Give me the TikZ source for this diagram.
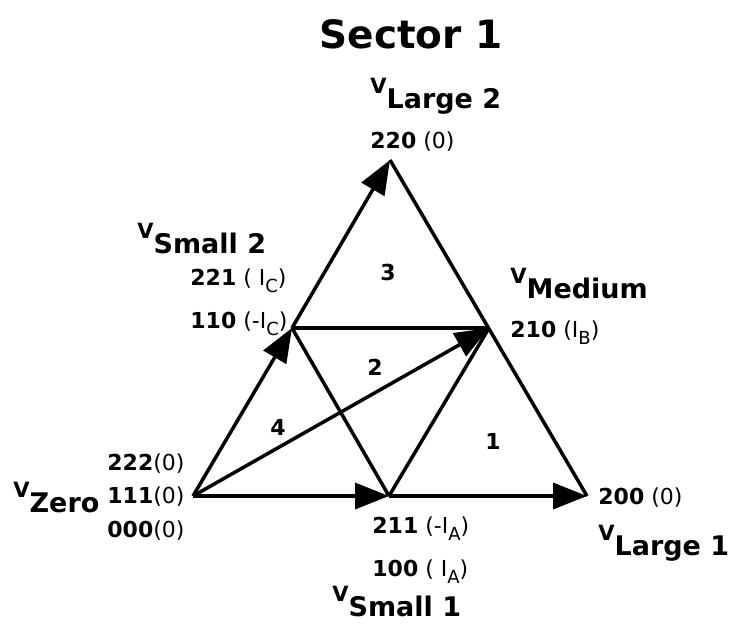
\documentclass[tikz,border=0pt]{standalone}
\usepackage{fontspec}
\setmainfont{DejaVu Sans}
\usetikzlibrary{arrows.meta}
\newcommand{\vlab}[1]{{\fontsize{10.5}{13}\selectfont\bfseries V}\raisebox{-7.5pt}{\fontsize{13.5}{15}\selectfont\bfseries #1}}
\newcommand{\cur}[1]{I\raisebox{-3.5pt}{\fontsize{9}{10}\selectfont #1}}

\begin{document}
\begin{tikzpicture}[x=0.5pt,y=-0.5pt,
  vec/.style={line width=1.75pt,-{Triangle[length=17pt,width=13pt]}},
  side/.style={line width=1.75pt},
  vname/.style={anchor=base west,inner sep=0pt},
  state/.style={anchor=base west,inner sep=0pt,font=\fontsize{11}{12}\selectfont},
  region/.style={font=\fontsize{11}{12}\selectfont\bfseries}]
\useasboundingbox (0,0) rectangle (731,623);
\node[font=\fontsize{19.5}{24}\selectfont\bfseries,anchor=base] (T) at (411,48) {Sector 1};
% vertices
\coordinate (Z) at (193,496);
\coordinate (S1) at (389,496);
\coordinate (L1) at (587,496);
\coordinate (L2) at (390,160);
\coordinate (S2) at (292,328);
\coordinate (M) at (489,328);
% sides
\draw[side] (L1) -- (L2);
\draw[side] (S2) -- (M);
\draw[side] (S2) -- (S1);
\draw[side] (S1) -- (M);
% vectors
\draw[vec] (Z) -- (S1);
\draw[vec] (S1) -- (L1);
\draw[vec] (Z) -- (S2);
\draw[vec] (S2) -- (L2);
\draw[vec] (Z) -- (M);
% regions
\node[region] (R1) at (493,441) {1};
\node[region] (R2) at (375,367) {2};
\node[region] (R3) at (388,272) {3};
\node[region] (R4) at (278,427) {4};
% vector names
\node[vname] (VL2) at (370,93) {\vlab{Large 2}};
\node[vname] (VM) at (510,283) {\vlab{Medium}};
\node[vname] (VS2) at (137,238) {\vlab{Small 2}};
\node[vname] (VZ) at (13,497) {\vlab{Zero}};
\node[vname] (VS1) at (332,601) {\vlab{Small 1}};
\node[vname] (VL1) at (598,540) {\vlab{Large 1}};
% switching states
\node[state] (s220) at (370,148) {\textbf{220} (0)};
\node[state] (s210) at (510,337) {\textbf{210} (\cur{B})};
\node[state] (s221) at (190,285) {\textbf{221} ( \cur{C})};
\node[state] (s110) at (190,328) {\textbf{110} (-\cur{C})};
\node[state] (s222) at (107,470) {\textbf{222}(0)};
\node[state] (s111) at (107,503) {\textbf{111}(0)};
\node[state] (s000) at (107,537) {\textbf{000}(0)};
\node[state] (s211) at (372,533) {\textbf{211} (-\cur{A})};
\node[state] (s100) at (372,576) {\textbf{100} ( \cur{A})};
\node[state] (s200) at (598,504) {\textbf{200} (0)};
\end{tikzpicture}
\end{document}
